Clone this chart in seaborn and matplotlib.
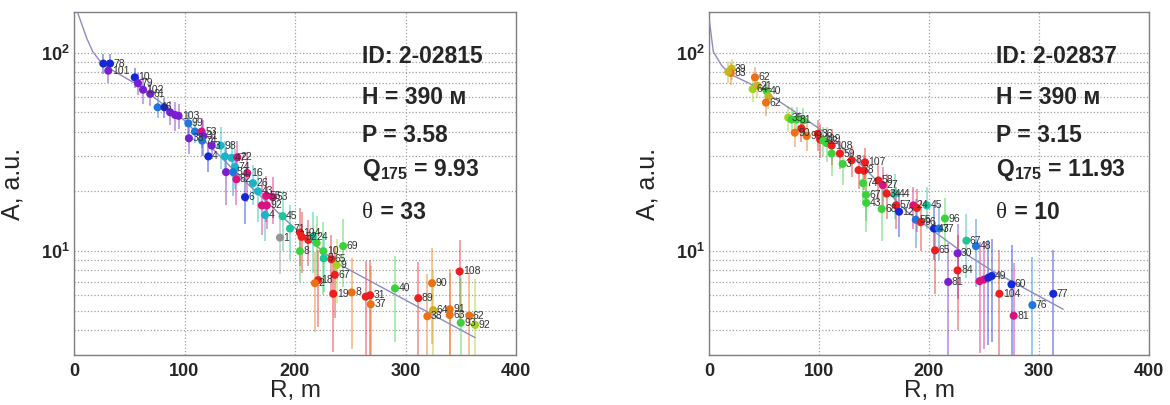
import numpy as np
import pandas as pd
import matplotlib
matplotlib.use("Agg")
import matplotlib.pyplot as plt
import seaborn as sns

# ---------------- colours ----------------
COL = {
    "B": "#1428d8", "CB": "#1e78dc", "P": "#7a1ed2", "M": "#d8127e",
    "C": "#18b4c8", "T": "#18c89a", "G": "#3cd23c", "GR": "#969696",
    "R": "#ec1e1e", "O": "#ec7014", "Y": "#c8b41e", "YG": "#a0d21e",
}

# ---------------- left panel data ----------------
L_R = [26.5, 32.6, 31, 55, 58, 62.5, 69, 75.7, 81.8, 87, 91.5, 94.6, 103.5, 109.5, 115.5, 117, 104, 116,
       124.6, 132.7, 121.6, 136.6, 142.6, 147.8, 145.7, 137.6, 144, 156.8, 147, 162, 166.5, 154.8, 174, 180,
       170, 174.5, 172.9, 188.8, 195.5, 186.4, 204.5, 206, 212, 216, 219.6, 204.5, 243.6, 225.6, 226, 233,
       237.7, 236, 221, 218, 234.6, 251.3, 264, 268, 268.5, 290.5, 349, 324, 311.6, 325, 319.8, 340, 340,
       350, 357.7, 363]
L_A = [88, 88, 81, 75, 70, 65, 62, 53, 53, 50, 48.5, 48, 44, 40, 40, 38, 37, 36,
       34, 34, 30, 30, 29.5, 29.7, 26.5, 25, 25, 24.7, 23, 22, 20, 18.7, 19, 18.7,
       17, 17, 15.2, 15, 13, 11.7, 12.4, 11.8, 11.4, 11.8, 11, 10, 10.6, 10, 9.2, 9.1,
       8.5, 7.6, 7.15, 6.9, 6.1, 6.2, 5.9, 6.0, 5.4, 6.5, 7.9, 6.9, 5.8, 5.05, 4.7, 5.1, 4.77,
       4.36, 4.74, 4.25]
L_E = [10, 10, 11, 9, 9, 10, 8, 6, 6, 7, 8, 7, 6, 5, 7, 8, 6, 6,
       5, 8, 5, 6, 6, 6, 6, 8, 6, 7, 6, 5, 6, 5, 5, 5,
       5, 4, 4, 5, 4, 4, 4, 4, 3, 4, 4, 3, 4, 4, 3, 3,
       3, 3, 3, 3, 3, 3, 3, 3, 3, 3, 3.5, 3.5, 3, 3, 3, 3, 3,
       3, 3, 3]
L_C = ["B", "B", "P", "B", "P", "P", "P", "CB", "B", "P", "P", "P", "CB", "CB", "M", "P", "P", "CB",
       "P", "C", "B", "C", "C", "M", "C", "P", "CB", "M", "M", "C", "C", "B", "M", "M",
       "M", "M", "C", "T", "T", "GR", "R", "R", "R", "T", "G", "G", "G", "G", "T", "R",
       "YG", "R", "R", "O", "R", "O", "R", "R", "O", "G", "R", "O", "R", "Y", "O", "O", "O",
       "G", "O", "YG"]
L_LAB = ["", "78", "101", "10", "79", "102", "61", "46", "", "", "", "103", "99", "", "53", "31", "38", "74",
         "3", "98", "4", "", "47", "22", "74", "", "53", "16", "82", "26", "43", "6", "55", "53",
         "", "92", "4", "45", "71", "1", "104", "52", "", "24", "", "8", "69", "10", "9", "65",
         "9", "67", "18", "2", "19", "8", "", "31", "37", "40", "108", "90", "89", "64", "38", "91", "63",
         "93", "62", "92"]
L_FIT_R = [3.6, 11.8, 17, 26, 57, 99, 156.5, 195, 238, 363]
L_FIT_A = [157, 117, 101, 87, 69, 46, 22, 13.8, 8.7, 3.67]
L_INFO = ["ID: 2-02815", "H = 390 м", "P = 3.58", "9.93", "33"]

# ---------------- right panel data ----------------
R_R = [20.6, 19.7, 17.5, 41.8, 39.7, 44, 52.4, 54, 51.8, 72, 75, 79.7, 85.8, 78, 84, 88.8, 99, 101, 104,
       107, 111.5, 111.5, 119, 121.5, 129.7, 141.8, 136, 141, 140, 154, 158, 142.7, 161.5, 169, 143, 157,
       170, 172.8, 185.7, 189, 198, 188, 192.5, 214.5, 204.5, 209, 234, 242.7, 205.5, 226, 226, 217.5,
       246, 250, 254, 257, 275, 264, 294, 313, 277]
R_A = [83, 79, 80, 75, 65.5, 68, 64, 60, 56, 47, 46, 46, 45.5, 39.5, 41.5, 38, 39, 36.5, 36,
       35, 34, 31, 31, 27.5, 28.7, 28, 25.6, 25.4, 22, 22.7, 21.5, 19.2, 19.5, 19.5, 17.5, 16.3,
       17, 15.8, 17, 16.5, 17, 14.4, 14, 14.6, 13, 13, 11.3, 10.6, 10.1, 9.75, 8, 7.0,
       7.06, 7.2, 7.35, 7.5, 6.8, 6.1, 5.35, 6.1, 4.73]
R_E = [10, 10, 10, 10, 9, 9, 8, 8, 8, 7, 7, 7, 7, 6, 6, 6, 7, 7, 6,
       7, 7, 7, 5, 6, 5, 5, 5, 5, 5, 5, 5, 5, 5, 5, 5, 5,
       4, 4, 4, 4, 4, 4, 4, 4, 4, 4, 4, 4, 4, 4, 4, 4,
       4, 4, 4, 4, 4, 4, 4, 4, 4]
R_C = ["Y", "O", "Y", "O", "YG", "Y", "G", "Y", "O", "YG", "G", "G", "G", "O", "R", "O", "R", "R", "G",
       "G", "R", "G", "R", "G", "R", "R", "R", "R", "G", "R", "M", "G", "R", "T", "G", "G",
       "R", "B", "M", "R", "T", "CB", "R", "G", "B", "CB", "T", "CB", "R", "P", "R", "P",
       "M", "M", "B", "B", "B", "R", "CB", "B", "M"]
R_LAB = ["39", "83", "", "62", "64", "21", "40", "", "62", "35", "", "31", "", "90", "", "99", "36", "109", "92",
         "", "108", "", "59", "3", "8", "107", "78", "", "74", "58", "27", "67", "34", "44", "43", "68",
         "57", "12", "24", "", "45", "55", "96", "96", "47", "37", "67", "48", "65", "30", "84", "81",
         "", "", "", "49", "60", "104", "76", "77", "81"]
R_FIT_R = [0.3, 3.9, 11.5, 19, 46, 76.5, 107, 137, 180, 228, 258.5, 322]
R_FIT_A = [146, 101, 86, 78, 66, 51, 39, 27.7, 15.8, 10.1, 7.9, 5.1]
R_INFO = ["ID: 2-02837", "H = 390 м", "P = 3.15", "11.93", "10"]

# ---------------- style ----------------
sns.set_style("white")
plt.rcParams["font.family"] = ["Liberation Sans", "DejaVu Sans"]
plt.rcParams["mathtext.fontset"] = "custom"
plt.rcParams["mathtext.rm"] = "Liberation Sans"
plt.rcParams["mathtext.bf"] = "Liberation Sans:bold"
plt.rcParams["mathtext.it"] = "Liberation Sans:italic"

fig = plt.figure(figsize=(11.7, 4.05), dpi=100)
ax_l = fig.add_axes([74 / 1170, 50 / 405, 442 / 1170, 343 / 405])
ax_r = fig.add_axes([709 / 1170, 50 / 405, 440 / 1170, 343 / 405])


def draw(ax, R, A, E, C, LAB, fitR, fitA, info):
    df = pd.DataFrame({"R": R, "A": A, "E": E, "C": C, "lab": LAB})
    df["key"] = [str(i) for i in range(len(df))]
    pal = {k: COL[c] for k, c in zip(df["key"], df["C"])}
    ax.set_yscale("log")
    # error bars
    lo = np.maximum(df["A"] - df["E"], 1.0)
    hi = df["A"] + df["E"]
    ax.vlines(df["R"], lo, hi, colors=[COL[c] for c in df["C"]], alpha=0.45, lw=1.3, zorder=2)
    # fit curve
    fit = pd.DataFrame({"R": fitR, "A": fitA})
    sns.lineplot(data=fit, x="R", y="A", ax=ax, color="#8c8cc0", lw=1.0, sort=False, zorder=3)
    # points
    sns.scatterplot(data=df, x="R", y="A", hue="key", palette=pal, legend=False, ax=ax,
                    s=34, edgecolor="none", zorder=4)
    for r, a, t in zip(df["R"], df["A"], df["lab"]):
        if t:
            ax.annotate(t, (r, a), xytext=(2.5, 0), textcoords="offset points",
                        fontsize=7.5, color="#333333", va="center", ha="left", zorder=5)
    ax.set_xlim(0, 400)
    ax.set_ylim(3, 160)
    ax.set_xticks([0, 100, 200, 300, 400])
    ax.set_xticklabels(["0", "100", "200", "300", "400"], fontweight="bold", fontsize=13)
    ax.set_yticks([10, 100])
    ax.set_yticklabels([r"$\mathbf{10^{1}}$", r"$\mathbf{10^{2}}$"], fontsize=13)
    ax.yaxis.set_minor_locator(matplotlib.ticker.LogLocator(base=10, subs=np.arange(2, 10)))
    ax.yaxis.set_minor_formatter(matplotlib.ticker.NullFormatter())
    ax.tick_params(axis="both", which="both", length=0)
    ax.tick_params(axis="x", pad=6)
    ax.tick_params(axis="y", pad=3)
    ax.grid(True, which="major", axis="both", ls=":", color="#a0a0a0", lw=0.9)
    ax.grid(True, which="minor", axis="y", ls=":", color="#a0a0a0", lw=0.9)
    for s in ax.spines.values():
        s.set_color("#808080")
        s.set_linewidth(1.0)
    ax.set_xlabel("R, m", fontsize=17.5, labelpad=0)
    ax.set_ylabel("A, a.u.", fontsize=18, labelpad=12)
    ys = [0.869, 0.752, 0.641, 0.539, 0.414]
    x0 = 0.652
    kw = dict(transform=ax.transAxes, fontsize=16.5, fontweight="bold", va="center", ha="left", zorder=6)
    ax.text(x0, ys[0], info[0], **kw)
    ax.text(x0, ys[1], info[1], **kw)
    ax.text(x0, ys[2], info[2], **kw)
    ax.text(x0, ys[3], r"Q$_{\mathbf{175}}$ = " + info[3], **kw)
    ax.text(x0, ys[4], "θ", transform=ax.transAxes, fontsize=16.5, family="Liberation Serif",
            va="center", ha="left", zorder=6)
    ax.annotate(" = " + info[4], (x0, ys[4]), xycoords="axes fraction", xytext=(8.5, 0),
                textcoords="offset points", fontsize=16.5, fontweight="bold", va="center", ha="left")


draw(ax_l, L_R, L_A, L_E, L_C, L_LAB, L_FIT_R, L_FIT_A, L_INFO)
draw(ax_r, R_R, R_A, R_E, R_C, R_LAB, R_FIT_R, R_FIT_A, R_INFO)

fig.savefig("out.png", dpi=100)
